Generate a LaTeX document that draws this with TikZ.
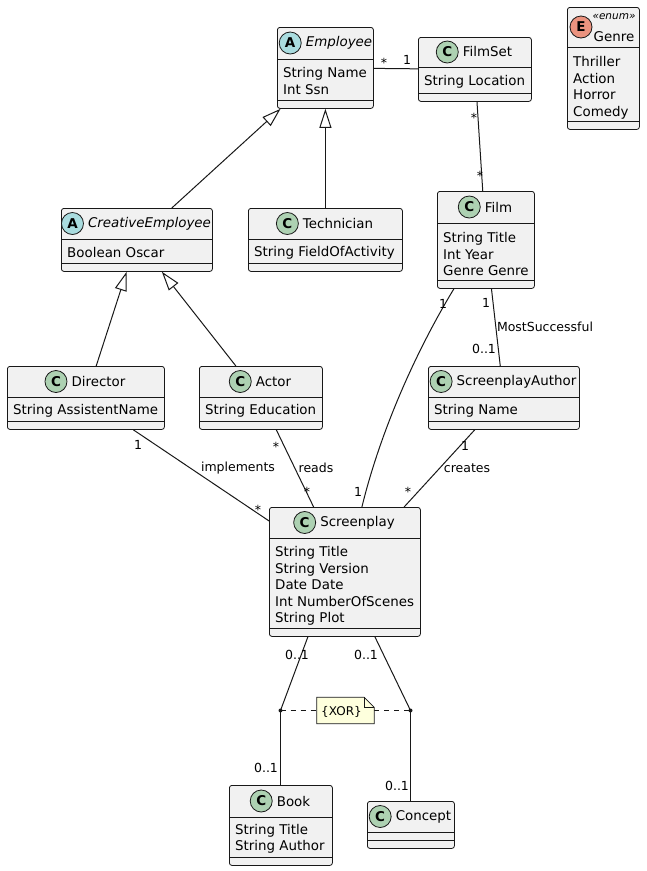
\documentclass[tikz,border=0pt]{standalone}
\usepackage{fontspec}
\setmainfont{DejaVu Sans}
\usetikzlibrary{arrows.meta}

\definecolor{boxfill}{HTML}{F1F1F1}
\definecolor{ink}{HTML}{181818}
\definecolor{iconC}{HTML}{ADD1B2}
\definecolor{iconA}{HTML}{A9DCDF}
\definecolor{iconE}{HTML}{EB937F}
\definecolor{notefill}{HTML}{FEFFDD}

\tikzset{
  umlbox/.style={draw=ink, fill=boxfill, line width=0.8pt, rounded corners=2.5pt,
    inner sep=0pt, anchor=north west},
  sepline/.style={draw=ink, line width=0.8pt},
  headtext/.style={font=\fontsize{13.4}{16}\selectfont, inner sep=2pt},
  icon/.style={circle, draw=ink, line width=0.8pt, minimum size=22pt, inner sep=0pt,
    font=\bfseries\fontsize{13.5}{13.5}\selectfont},
  attrs/.style={font=\fontsize{13.4}{16.5}\selectfont, align=left, anchor=west, inner sep=0pt},
  assoc/.style={draw=ink, line width=1pt},
  gen/.style={assoc, -{Triangle[open, length=19pt, width=12pt, line width=1pt]}},
  mult/.style={font=\fontsize{12.5}{14}\selectfont, inner sep=0pt},
  notestyle/.style={draw=ink, fill=notefill, line width=0.8pt},
}

% class frame: id, left, top, right, bottom, first separator, second separator
\newcommand\umlclass[7]{%
  \node[umlbox, minimum width={(#4-#2)*1pt}, minimum height={(#5-#3)*1pt}] (#1) at (#2,#3) {};
  \draw[sepline] (#2,#6) -- (#4,#6) (#2,#7) -- (#4,#7);
}
% class header: id, letter, icon colour, name, centre x, centre y
\newcommand\umlhead[6]{%
  \node[headtext, label={[icon, fill=#3, name=#1-icon, label distance=2pt]left:#2}]
    (#1-head) at ({#5+13},#6) {#4};
}

\begin{document}
\begin{tikzpicture}[x=1pt, y=-1pt]
\useasboundingbox (0,0) rectangle (646,871);

% ---- class frames ----
\umlclass{emp}{277}{27}{373}{108}{59}{100}
\umlclass{filmset}{418}{37}{531}{101}{67}{93}
\umlclass{genre}{567}{7}{639}{129}{47}{121}
\umlclass{ce}{61}{208}{212}{271}{239}{263}
\umlclass{tech}{248}{208}{402}{271}{239}{263}
\umlclass{film}{437}{191}{534}{288}{223}{280}
\umlclass{dir}{7}{366}{164}{429}{397}{421}
\umlclass{actor}{199}{366}{322}{429}{397}{421}
\umlclass{sa}{428}{366}{579}{429}{397}{421}
\umlclass{sp}{269}{507}{420}{636}{538}{628}
\umlclass{book}{229}{785}{332}{865}{817}{857}
\umlclass{concept}{367}{801}{454}{848}{832}{840}

% ---- headers ----
\umlhead{emp}{A}{iconA}{\itshape Employee}{326}{43}
\umlhead{filmset}{C}{iconC}{FilmSet}{474.5}{52}
\umlhead{ce}{A}{iconA}{\itshape CreativeEmployee}{136.5}{223.5}
\umlhead{tech}{C}{iconC}{Technician}{325}{223.5}
\umlhead{film}{C}{iconC}{Film}{485.5}{207}
\umlhead{dir}{C}{iconC}{Director}{85.5}{381.5}
\umlhead{actor}{C}{iconC}{Actor}{260.5}{381.5}
\umlhead{sa}{C}{iconC}{ScreenplayAuthor}{503.5}{381.5}
\umlhead{sp}{C}{iconC}{Screenplay}{344.5}{522.5}
\umlhead{book}{C}{iconC}{Book}{280.5}{801}
\umlhead{concept}{C}{iconC}{Concept}{410.5}{816.5}

% enum header with stereotype
\node[icon, fill=iconE] (genre-icon) at (581,27) {E};
\node[mult, font=\itshape\fontsize{10.5}{12}\selectfont] (genre-st) at (614,17) {«enum»};
\node[headtext] (genre-head) at (614,36.5) {Genre};

% ---- attributes ----
\node[attrs] (emp-a) at (283,81) {String Name\\Int Ssn};
\node[attrs] (filmset-a) at (424,81.5) {String Location};
\node[attrs] (genre-a) at (573,88) {Thriller\\Action\\Horror\\Comedy};
\node[attrs] (ce-a) at (67,252.5) {Boolean Oscar};
\node[attrs] (tech-a) at (254,252.5) {String FieldOfActivity};
\node[attrs] (film-a) at (443,254) {String Title\\Int Year\\Genre Genre};
\node[attrs] (dir-a) at (13,410.5) {String AssistentName};
\node[attrs] (actor-a) at (205,410.5) {String Education};
\node[attrs] (sa-a) at (434,410.5) {String Name};
\node[attrs] (sp-a) at (275,586) {String Title\\String Version\\Date Date\\Int NumberOfScenes\\String Plot};
\node[attrs] (book-a) at (235,839) {String Title\\String Author};

% ---- generalisations ----
\draw[gen] (ce) -- (emp);
\draw[gen] (tech) -- (emp);
\draw[gen] (dir) -- (ce);
\draw[gen] (actor) -- (ce);

% ---- associations ----
\draw[assoc] (emp) -- (filmset);
\draw[assoc] (filmset) -- (film);
\draw[assoc] (film) -- (sa);
\draw[assoc] (sa) -- (sp);
\draw[assoc] (dir) -- (sp);
\draw[assoc] (actor) -- (sp);
\draw[assoc] ([xshift=-32pt]film.south) .. controls (412,358) and (379,437) .. ([xshift=17pt]sp.north);

% ---- xor constraint ----
\coordinate (ldot) at (280.5,710.5);
\coordinate (rdot) at (410.5,710.5);
\draw[assoc] ([xshift=-37pt]sp.south) -- (ldot);
\draw[assoc] ([xshift=30pt]sp.south) -- (rdot);
\draw[assoc] (ldot) -- (ldot |- book.north);
\draw[assoc] (rdot) -- (rdot |- concept.north);
\fill[ink] (ldot) circle (2);
\fill[ink] (rdot) circle (2);

\node[minimum width=57pt, minimum height=26pt, inner sep=0pt] (xor) at (345.5,710.5) {};
\draw[assoc, dash pattern=on 5pt off 5pt] (ldot) -- (xor.west);
\draw[assoc, dash pattern=on 5pt off 5pt] (xor.east) -- (rdot);
\draw[notestyle] (xor.south west) -- (xor.north west) -- ([xshift=-10pt]xor.north east)
  -- ([yshift=-10pt]xor.north east) -- (xor.south east) -- cycle;
\draw[sepline] ([xshift=-10pt]xor.north east) -- ([xshift=-10pt,yshift=-10pt]xor.north east)
  -- ([yshift=-10pt]xor.north east);
\node[mult, font=\fontsize{12}{14}\selectfont] (xor-t) at ([xshift=-4pt,yshift=-1pt]xor.center) {\{XOR\}};

% ---- multiplicities and role names ----
\node[mult] (m1) at (384,63) {*};
\node[mult] (m2) at (407,60) {1};
\node[mult] (m3) at (474,118) {*};
\node[mult] (m4) at (480,176) {*};
\node[mult] (m5) at (443,304) {1};
\node[mult] (m6) at (358,492) {1};
\node[mult] (m7) at (486,303) {1};
\node[mult] (m8) at (484,349) {0..1};
\node[mult] (l1) at (545,327) {MostSuccessful};
\node[mult] (m9) at (465,446) {1};
\node[mult] (l2) at (467,468) {creates};
\node[mult] (m10) at (408,492) {*};
\node[mult] (m11) at (138,445) {1};
\node[mult] (l3) at (238,468) {implements};
\node[mult] (m12) at (258,510) {*};
\node[mult] (m13) at (276,447) {*};
\node[mult] (l4) at (316,468) {reads};
\node[mult] (m14) at (307,492) {*};
\node[mult] (m15) at (297,655) {0..1};
\node[mult] (m16) at (366,655) {0..1};
\node[mult] (m17) at (266,768) {0..1};
\node[mult] (m18) at (397,786) {0..1};
\end{tikzpicture}
\end{document}
